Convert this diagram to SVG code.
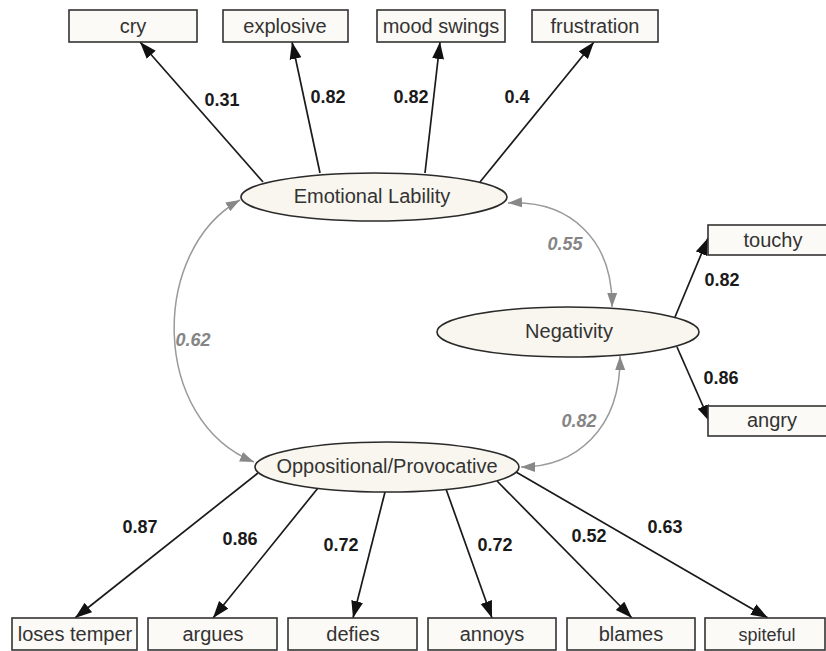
<svg xmlns="http://www.w3.org/2000/svg" width="826" height="651" viewBox="0 0 826 651">
<style>
  .box { fill: #fcfaf6; stroke: #333; stroke-width: 1.6; }
  .lat { fill: #f9f6ef; stroke: #2a2a2a; stroke-width: 1.6; }
  .t { font-family: "Liberation Sans", Arial, sans-serif; font-size: 20px; fill: #333; text-anchor: middle; }
  .w { font-family: "Liberation Sans", Arial, sans-serif; font-size: 18px; font-weight: bold; fill: #1a1a1a; text-anchor: middle; }
  .c { font-family: "Liberation Sans", Arial, sans-serif; font-size: 18px; font-weight: bold; font-style: italic; fill: #858585; text-anchor: middle; }
  .ld { fill: none; stroke: #1a1a1a; stroke-width: 1.7; marker-end: url(#ah); }
  .cv { fill: none; stroke: #9a9a9a; stroke-width: 1.5; marker-start: url(#gh); marker-end: url(#gh); }
</style>
<defs>
  <marker id="ah" markerUnits="userSpaceOnUse" markerWidth="18" markerHeight="13" refX="17" refY="6.5" orient="auto">
    <path d="M0,0.5 L17,6.5 L0,12.5 z" fill="#111"/>
  </marker>
  <marker id="gh" markerUnits="userSpaceOnUse" markerWidth="15" markerHeight="11" refX="14" refY="5.5" orient="auto-start-reverse">
    <path d="M0,0.5 L14,5.5 L0,10.5 z" fill="#888"/>
  </marker>
</defs>

<g id="connectors">
  <path class="ld" d="M263,182 L140,42"/>
  <path class="ld" d="M320,173 L292,42"/>
  <path class="ld" d="M425,173 L440,42"/>
  <path class="ld" d="M480,182 L594,42"/>
  <path class="ld" d="M675,317 L708,238"/>
  <path class="ld" d="M677,347 L710,422"/>
  <path class="ld" d="M258,473 L75,618"/>
  <path class="ld" d="M318,488 L213,618"/>
  <path class="ld" d="M385,492 L353,618"/>
  <path class="ld" d="M446,489 L492,618"/>
  <path class="ld" d="M497,481 L632,618"/>
  <path class="ld" d="M516,472 L768,618"/>
  <path class="cv" d="M240,200 C150,250 150,420 254,462"/>
  <path class="cv" d="M508,203 C570,200 613,240 612,307"/>
  <path class="cv" d="M521,467 C575,467 621,430 620,356"/>
</g>

<g id="labels">
  <text class="w" x="222" y="106">0.31</text>
  <text class="w" x="328" y="103">0.82</text>
  <text class="w" x="411" y="103">0.82</text>
  <text class="w" x="517" y="103">0.4</text>
  <text class="w" x="722" y="286">0.82</text>
  <text class="w" x="721" y="384">0.86</text>
  <text class="w" x="140" y="533">0.87</text>
  <text class="w" x="240" y="545">0.86</text>
  <text class="w" x="341" y="551">0.72</text>
  <text class="w" x="495" y="551">0.72</text>
  <text class="w" x="589" y="542">0.52</text>
  <text class="w" x="665" y="533">0.63</text>
  <text class="c" x="565" y="250">0.55</text>
  <text class="c" x="193" y="346">0.62</text>
  <text class="c" x="579" y="427">0.82</text>
</g>

<g id="emotional-lability">
  <ellipse class="lat" cx="374" cy="197" rx="133" ry="24"/>
  <text class="t" x="372" y="203">Emotional Lability</text>
</g>
<g id="negativity">
  <ellipse class="lat" cx="568" cy="332" rx="131" ry="25"/>
  <text class="t" x="569" y="338">Negativity</text>
</g>
<g id="oppositional">
  <ellipse class="lat" cx="387" cy="467" rx="132" ry="25"/>
  <text class="t" x="387" y="473">Oppositional/Provocative</text>
</g>

<g id="cry"><rect class="box" x="69" y="10" width="128" height="32"/><text class="t" x="133" y="33">cry</text></g>
<g id="explosive"><rect class="box" x="223" y="10" width="125" height="32"/><text class="t" x="285" y="33">explosive</text></g>
<g id="mood-swings"><rect class="box" x="377" y="10" width="128" height="32"/><text class="t" x="441" y="33">mood swings</text></g>
<g id="frustration"><rect class="box" x="532" y="10" width="126" height="32"/><text class="t" x="595" y="33">frustration</text></g>

<g id="touchy"><rect class="box" x="708" y="225" width="130" height="30"/><text class="t" x="773" y="247">touchy</text></g>
<g id="angry"><rect class="box" x="708" y="406" width="130" height="30"/><text class="t" x="772" y="427">angry</text></g>

<g id="loses-temper"><rect class="box" x="12" y="618" width="125" height="32"/><text class="t" x="75" y="641">loses temper</text></g>
<g id="argues"><rect class="box" x="148" y="618" width="129" height="32"/><text class="t" x="213" y="641">argues</text></g>
<g id="defies"><rect class="box" x="288" y="618" width="129" height="32"/><text class="t" x="353" y="641">defies</text></g>
<g id="annoys"><rect class="box" x="428" y="618" width="128" height="32"/><text class="t" x="492" y="641">annoys</text></g>
<g id="blames"><rect class="box" x="567" y="618" width="128" height="32"/><text class="t" x="631" y="641">blames</text></g>
<g id="spiteful"><rect class="box" x="705" y="618" width="120" height="32"/><text class="t" x="767" y="641" style="font-size:18px">spiteful</text></g>
</svg>
